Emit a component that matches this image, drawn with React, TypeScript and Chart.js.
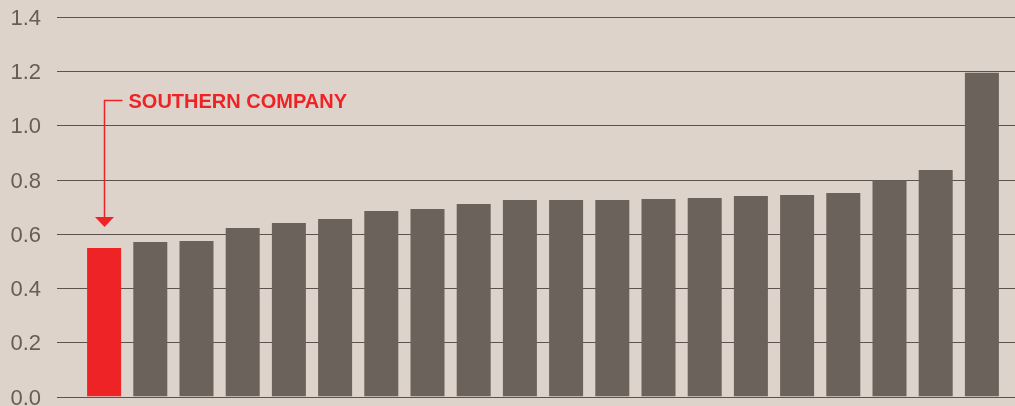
import React, { useEffect, useRef } from "react";
import { Chart, registerables } from "chart.js";

Chart.register(...registerables);

const categories: string[] = [
  "Southern Company", "Peer 1", "Peer 2", "Peer 3", "Peer 4", "Peer 5", "Peer 6",
  "Peer 7", "Peer 8", "Peer 9", "Peer 10", "Peer 11", "Peer 12", "Peer 13",
  "Peer 14", "Peer 15", "Peer 16", "Peer 17", "Peer 18", "Peer 19",
];
const values: number[] = [
  0.548, 0.570, 0.574, 0.622, 0.640, 0.655, 0.684, 0.692, 0.710, 0.725,
  0.725, 0.725, 0.729, 0.732, 0.740, 0.743, 0.751, 0.798, 0.836, 1.194,
];
const yTicks: number[] = [0, 0.2, 0.4, 0.6, 0.8, 1.0, 1.2, 1.4];
const highlightLabel = "SOUTHERN COMPANY";

const BG = "#ddd3ca";
const BAR = "#6b625b";
const RED = "#ee2326";
const GRID = "#5d524c";
const TICK = "#675d57";

const gridPlugin = {
  id: "customGrid",
  beforeDatasetsDraw(chart: any) {
    const { ctx, scales, width } = chart;
    const y = scales.y;
    ctx.save();
    ctx.strokeStyle = GRID;
    ctx.lineWidth = 1;
    ctx.fillStyle = TICK;
    ctx.font = '22px "Liberation Sans", Arial, sans-serif';
    ctx.textAlign = "right";
    ctx.textBaseline = "alphabetic";
    yTicks.forEach((t) => {
      const py = Math.round(y.getPixelForValue(t)) + 0.5;
      ctx.beginPath();
      ctx.moveTo(57, py);
      ctx.lineTo(width, py);
      ctx.stroke();
      ctx.fillText(t.toFixed(1), 41, py + 7.5);
    });
    ctx.restore();
  },
};

const annotationPlugin = {
  id: "annotation",
  afterDatasetsDraw(chart: any) {
    const { ctx, scales } = chart;
    const bar = chart.getDatasetMeta(0).data[0];
    if (!bar) return;
    const cx = Math.round(bar.x) + 0.5;
    const lineY = Math.round(scales.y.getPixelForValue(1.094)) + 0.5;
    const tipY = bar.y - 21;
    ctx.save();
    ctx.strokeStyle = RED;
    ctx.fillStyle = RED;
    ctx.lineWidth = 1.5;
    ctx.beginPath();
    ctx.moveTo(cx + 18, lineY);
    ctx.lineTo(cx, lineY);
    ctx.lineTo(cx, tipY - 9);
    ctx.stroke();
    ctx.beginPath();
    ctx.moveTo(cx - 9.5, tipY - 10);
    ctx.lineTo(cx + 9.5, tipY - 10);
    ctx.lineTo(cx, tipY);
    ctx.closePath();
    ctx.fill();
    ctx.font = 'bold 20px "Liberation Sans", Arial, sans-serif';
    ctx.textAlign = "left";
    ctx.textBaseline = "alphabetic";
    ctx.fillText(highlightLabel, cx + 24, lineY + 7);
    ctx.restore();
  },
};

export default function App() {
  const ref = useRef<HTMLCanvasElement | null>(null);
  useEffect(() => {
    document.body.style.margin = "0";
    const canvas = ref.current;
    if (!canvas) return;
    const chart = new Chart(canvas, {
      type: "bar",
      data: {
        labels: categories,
        datasets: [
          {
            data: values,
            backgroundColor: values.map((_, i) => (i === 0 ? RED : BAR)),
            borderWidth: 0,
            categoryPercentage: 1,
            barPercentage: 0.736,
          },
        ],
      },
      options: {
        animation: false,
        responsive: false,
        maintainAspectRatio: false,
        devicePixelRatio: 1,
        layout: { padding: { top: 17, bottom: 9.5, left: 81, right: 10 } },
        plugins: { legend: { display: false }, tooltip: { enabled: false } },
        scales: {
          x: { display: false, offset: true },
          y: { display: false, min: 0, max: 1.4 },
        },
      },
      plugins: [gridPlugin, annotationPlugin],
    });
    return () => chart.destroy();
  }, []);
  return (
    <div style={{ position: "fixed", left: 0, top: 0, width: 1015, height: 406, background: BG }}>
      <canvas ref={ref} width={1015} height={406} style={{ display: "block", width: 1015, height: 406 }} />
    </div>
  );
}
